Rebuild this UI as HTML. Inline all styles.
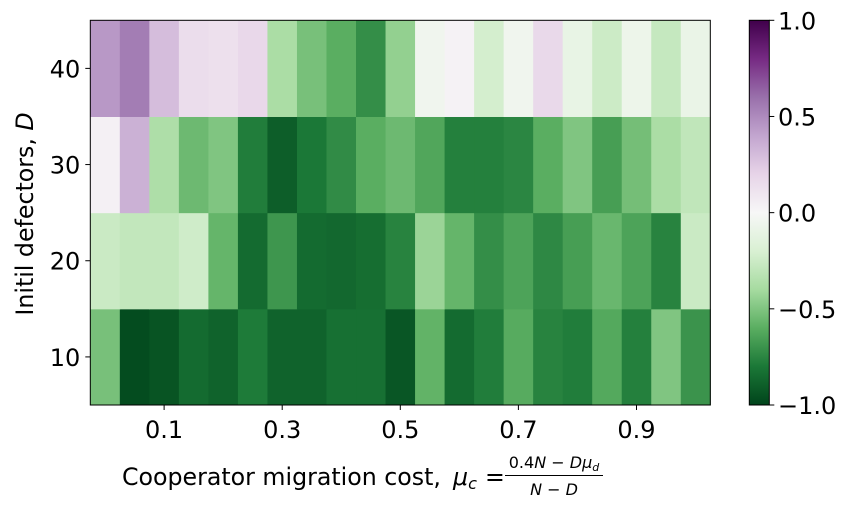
<!DOCTYPE html>
<html><head><meta charset="utf-8"><style>
html,body{margin:0;padding:0;background:#fff;}
svg text{font-family:"DejaVu Sans","Liberation Sans",sans-serif;fill:#000;}
</style></head><body>
<svg id="chart" width="855" height="505" viewBox="0 0 855 505" xmlns="http://www.w3.org/2000/svg">
<defs>
<linearGradient id="cbgrad" x1="0" y1="1" x2="0" y2="0">
<stop offset="0" stop-color="#00441b"/><stop offset="0.1" stop-color="#1b7837"/><stop offset="0.2" stop-color="#5aae61"/><stop offset="0.3" stop-color="#a6dba0"/><stop offset="0.4" stop-color="#d9f0d3"/><stop offset="0.5" stop-color="#f7f7f7"/><stop offset="0.6" stop-color="#e7d4e8"/><stop offset="0.7" stop-color="#c2a5cf"/><stop offset="0.8" stop-color="#9970ab"/><stop offset="0.9" stop-color="#762a83"/><stop offset="1" stop-color="#40004b"/>
</linearGradient>
</defs>
<g id="cells"></g>
<rect x="90.3" y="20.3" width="620" height="384.7" fill="none" stroke="#000" stroke-width="1"/>
<g id="axes"></g>
<text x="122" y="485" font-size="23.7">Cooperator migration cost,</text>
<text x="453" y="485" font-size="23.7" font-style="italic">μ<tspan font-size="16" dy="4">c</tspan></text>
<text x="485" y="485" font-size="23.7">=</text>
<text x="554" y="468" font-size="16" text-anchor="middle">0.4<tspan font-style="italic">N</tspan> − <tspan font-style="italic">Dμ</tspan><tspan font-size="11" font-style="italic" dy="3">d</tspan></text>
<line x1="505" y1="475.5" x2="603" y2="475.5" stroke="#000" stroke-width="1"/>
<text x="554" y="495" font-size="16" text-anchor="middle"><tspan font-style="italic">N</tspan> − <tspan font-style="italic">D</tspan></text>
<text transform="translate(33,214) rotate(-90)" font-size="23.7" text-anchor="middle">Initil defectors, <tspan font-style="italic">D</tspan></text>
<rect x="749.3" y="20.3" width="20" height="384.7" fill="url(#cbgrad)" stroke="#000" stroke-width="1"/>
<g id="cbaxis"></g>
</svg>
<script>
const xCategories = [0,0.05,0.1,0.15,0.2,0.25,0.3,0.35,0.4,0.45,0.5,0.55,0.6,0.65,0.7,0.75,0.8,0.85,0.9,0.95,1.0];
const yCategories = [10,20,30,40];
const row10 = [-0.52,-0.97,-0.94,-0.85,-0.88,-0.79,-0.88,-0.88,-0.83,-0.83,-0.93,-0.58,-0.85,-0.78,-0.61,-0.76,-0.78,-0.62,-0.77,-0.5,-0.7];
const row20 = [-0.26,-0.29,-0.29,-0.24,-0.57,-0.85,-0.69,-0.85,-0.86,-0.84,-0.76,-0.43,-0.57,-0.72,-0.64,-0.74,-0.66,-0.56,-0.64,-0.76,-0.26];
const row30 = [0.04,0.35,-0.37,-0.55,-0.5,-0.78,-0.9,-0.8,-0.73,-0.6,-0.55,-0.63,-0.77,-0.77,-0.75,-0.6,-0.5,-0.66,-0.53,-0.38,-0.3];
const row40 = [0.45,0.55,0.3,0.15,0.13,0.18,-0.38,-0.52,-0.6,-0.72,-0.45,-0.05,0.03,-0.22,-0.05,0.17,-0.1,-0.25,-0.07,-0.28,-0.09];
const xTickValues = [0.1,0.3,0.5,0.7,0.9];
const xTickLabels = ["0.1","0.3","0.5","0.7","0.9"];
const yTickValues = [10,20,30,40];
const yTickLabels = ["10","20","30","40"];
const cbTickValues = [1,0.5,0,-0.5,-1];
const cbTickLabels = ["1.0","0.5","0.0","\u22120.5","\u22121.0"];

const rows = [row10,row20,row30,row40];
const NS="http://www.w3.org/2000/svg";
const X0=90.3,X1=710.3,Y0=20.3,Y1=405;
const xs=v=>X0+(v+0.025)/1.05*(X1-X0);
const ys=v=>Y1-(v-5)/40*(Y1-Y0);
const cw=(X1-X0)/xCategories.length;
const cby=v=>Y1-(v+1)/2*(Y1-Y0);
const stops=["#00441b","#1b7837","#5aae61","#a6dba0","#d9f0d3","#f7f7f7","#e7d4e8","#c2a5cf","#9970ab","#762a83","#40004b"];
function hex(h){return [1,3,5].map(i=>parseInt(h.substr(i,2),16));}
function cmap(v){let t=(Math.max(-1,Math.min(1,v))+1)/2*10;let i=Math.min(9,Math.floor(t));let f=t-i;
const a=hex(stops[i]),b=hex(stops[i+1]);return "rgb("+a.map((c,k)=>Math.round(c+(b[k]-c)*f)).join(",")+")";}
const cells=document.getElementById('cells');
rows.forEach((row,ri)=>{row.forEach((v,ci)=>{
 const r=document.createElementNS(NS,'rect');
 
 
 const cx=xs(xCategories[ci]);const cy=ys(yCategories[ri]);
 r.setAttribute('x',(cx-cw/2).toFixed(2));r.setAttribute('width',(cw+0.5).toFixed(2));
 r.setAttribute('y',(cy-48.1).toFixed(2));r.setAttribute('height','96.7');
 r.setAttribute('fill',cmap(v));cells.appendChild(r);});});
const axes=document.getElementById('axes');
function line(g,x1,y1,x2,y2,name){const l=document.createElementNS(NS,'line');
 
 
 l.setAttribute('x1',x1);l.setAttribute('y1',y1);l.setAttribute('x2',x2);l.setAttribute('y2',y2);l.setAttribute('stroke','#000');g.appendChild(l);}
function text(g,x,y,s,anchor,name){const t=document.createElementNS(NS,'text');
 
 
 t.setAttribute('x',x);t.setAttribute('y',y);t.setAttribute('font-size','24');t.setAttribute('text-anchor',anchor);t.textContent=s;g.appendChild(t);}
xTickValues.forEach((v,i)=>{const x=xs(v);line(axes,x,Y1,x,Y1+5,'x-tick');text(axes,x,Y1+33,xTickLabels[i],'middle','x-tick-label');});
yTickValues.forEach((v,i)=>{const y=ys(v);line(axes,X0-5,y,X0,y,'y-tick');text(axes,X0-10,y+9,yTickLabels[i],'end','y-tick-label');});
const cb=document.getElementById('cbaxis');
cbTickValues.forEach((v,i)=>{const y=cby(v);line(cb,769.3,y,774.3,y,'colorbar-tick');text(cb,778,y+9,cbTickLabels[i],'start','colorbar-tick-label');});
</script>
</body></html>
